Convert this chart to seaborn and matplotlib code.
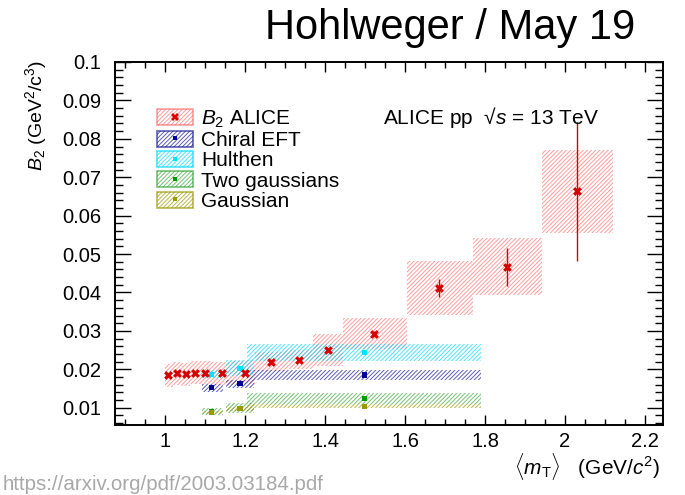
import matplotlib
matplotlib.use("Agg")
import matplotlib.pyplot as plt
import seaborn as sns
import numpy as np
import pandas as pd
from matplotlib.patches import Patch
from matplotlib.lines import Line2D
from matplotlib.ticker import MultipleLocator, FixedLocator, FixedFormatter

# ---------------- data ----------------
alice_mt = [1.008, 1.029, 1.052, 1.075, 1.100, 1.142, 1.200, 1.265, 1.335, 1.408, 1.523, 1.685, 1.856, 2.030]
alice_b2 = [0.0184, 0.0190, 0.0187, 0.0191, 0.0191, 0.0190, 0.0191, 0.0220, 0.0225, 0.0250, 0.0293, 0.0412, 0.0467, 0.0663]
alice_stat = [0.0003, 0.0003, 0.0003, 0.0003, 0.0003, 0.0003, 0.0003, 0.0004, 0.0004, 0.0005, 0.0006, 0.0024, 0.0049, 0.0180]
alice_sys = [0.0030, 0.0030, 0.0030, 0.0030, 0.0030, 0.0030, 0.0030, 0.0025, 0.0025, 0.0041, 0.0040, 0.0070, 0.0074, 0.0107]
alice_lo = [1.000, 1.019, 1.040, 1.063, 1.088, 1.120, 1.170, 1.225, 1.300, 1.371, 1.446, 1.604, 1.770, 1.943]
alice_hi = [1.019, 1.040, 1.063, 1.088, 1.120, 1.170, 1.225, 1.300, 1.371, 1.446, 1.604, 1.770, 1.943, 2.120]

model_mt = [1.117, 1.1875, 1.498]
model_lo = [1.092, 1.153, 1.204]
model_hi = [1.146, 1.223, 1.790]
chiral_b2 = [0.0152, 0.0162, 0.0185]
chiral_err = [0.0010, 0.0011, 0.0012]
hulthen_b2 = [0.0187, 0.0203, 0.0244]
hulthen_err = [0.0010, 0.0020, 0.0022]
twogaus_b2 = [0.0090, 0.0099, 0.0124]
twogaus_err = [0.0009, 0.0013, 0.0014]
gaus_b2 = [0.0088, 0.0097, 0.0104]
gaus_err = [0.0004, 0.0005, 0.0005]

model_names = ["Chiral EFT", "Hulthen", "Two gaussians", "Gaussian"]
x_ticks = [1.0, 1.2, 1.4, 1.6, 1.8, 2.0, 2.2]
x_ticklabels = ["1", "1.2", "1.4", "1.6", "1.8", "2", "2.2"]
y_ticks = [0.01, 0.02, 0.03, 0.04, 0.05, 0.06, 0.07, 0.08, 0.09, 0.1]
y_ticklabels = ["0.01", "0.02", "0.03", "0.04", "0.05", "0.06", "0.07", "0.08", "0.09", "0.1"]

# ---------------- style ----------------
sns.set_theme(style="ticks")
plt.rcParams["font.family"] = ["Liberation Sans", "DejaVu Sans"]
plt.rcParams["mathtext.fontset"] = "custom"
plt.rcParams["mathtext.rm"] = "Liberation Sans"
plt.rcParams["mathtext.it"] = "Liberation Sans:italic"
plt.rcParams["mathtext.bf"] = "Liberation Sans:bold"
plt.rcParams["hatch.linewidth"] = 0.7
plt.rcParams["text.color"] = "black"
plt.rcParams["axes.labelcolor"] = "black"

RED = "#d40000"
red_hatch = (1.0, 0.3, 0.3, 0.55)
model_mcol = ["#000099", "#00e5ff", "#009900", "#999900"]
model_hcol = [(0.1, 0.1, 0.6, 0.7), (0.0, 0.85, 1.0, 0.7), (0.1, 0.6, 0.1, 0.6), (0.6, 0.6, 0.0, 0.7)]
HATCH = "////////"

fig = plt.figure(figsize=(6.85, 4.95), dpi=100)
W, H = 685, 495
L, R, T, B = 115, 663, 62, 425
ax = fig.add_axes([L / W, 1 - B / H, (R - L) / W, (B - T) / H])

# ALICE systematic boxes
a_lo = np.array(alice_lo); a_hi = np.array(alice_hi)
a_y = np.array(alice_b2); a_s = np.array(alice_sys)
ax.bar(a_lo, 2 * a_s, width=a_hi - a_lo, bottom=a_y - a_s, align="edge",
       color="none", edgecolor=red_hatch, hatch=HATCH, linewidth=0, zorder=1)

# model boxes
models_y = [chiral_b2, hulthen_b2, twogaus_b2, gaus_b2]
models_e = [chiral_err, hulthen_err, twogaus_err, gaus_err]
m_lo = np.array(model_lo); m_hi = np.array(model_hi)
for yv, ev, hc in zip(models_y, models_e, model_hcol):
    yv = np.array(yv); ev = np.array(ev)
    ax.bar(m_lo, 2 * ev, width=m_hi - m_lo, bottom=yv - ev, align="edge",
           color="none", edgecolor=hc, hatch=HATCH, linewidth=0, zorder=2)

# model points
rows = []
for name, yv in zip(model_names, models_y):
    for x, y in zip(model_mt, yv):
        rows.append({"mt": x, "b2": y, "model": name})
mdf = pd.DataFrame(rows)
sns.scatterplot(data=mdf, x="mt", y="b2", hue="model", hue_order=model_names,
                palette=model_mcol, marker="s", s=14, linewidth=0, legend=False,
                ax=ax, zorder=4)

# ALICE points + stat errors
ax.errorbar(alice_mt, alice_b2, yerr=alice_stat, fmt="none", ecolor=RED,
            elinewidth=1.0, capsize=0, zorder=5)
adf = pd.DataFrame({"mt": alice_mt, "b2": alice_b2})
sns.scatterplot(data=adf, x="mt", y="b2", color=RED, marker="X", s=40,
                linewidth=0, legend=False, ax=ax, zorder=6)

# axes
ax.set_xlim(0.875, 2.245)
ax.set_ylim(0.0055, 0.1)
ax.xaxis.set_major_locator(FixedLocator(x_ticks))
ax.xaxis.set_major_formatter(FixedFormatter(x_ticklabels))
ax.yaxis.set_major_locator(FixedLocator(y_ticks))
ax.yaxis.set_major_formatter(FixedFormatter(y_ticklabels))
ax.xaxis.set_minor_locator(MultipleLocator(0.05))
ax.yaxis.set_minor_locator(MultipleLocator(0.002))
ax.tick_params(which="both", direction="in", top=True, right=True,
               width=1.0, color="black", labelsize=14.5, labelcolor="black")
ax.tick_params(axis="x", which="major", length=7.5, pad=5)
ax.tick_params(axis="x", which="minor", length=4)
ax.tick_params(axis="y", which="major", length=11.5, pad=10)
ax.tick_params(axis="y", which="minor", length=6)
for sp in ax.spines.values():
    sp.set_linewidth(1.4)
    sp.set_color("black")
ax.set_xlabel("")
ax.set_ylabel("")

# legend
handles = [(Patch(facecolor="none", edgecolor=red_hatch, hatch=HATCH, lw=1.2),
            Line2D([], [], ls="none", marker="X", color=RED, ms=6, mew=0))]
for mc, hc in zip(model_mcol, model_hcol):
    handles.append((Patch(facecolor="none", edgecolor=hc, hatch=HATCH, lw=1.2),
                    Line2D([], [], ls="none", marker="s", color=mc, ms=3.5, mew=0)))
labels = [r"$B_2$ ALICE"] + model_names
leg = fig.legend(handles, labels, loc="upper left", bbox_to_anchor=(156.7 / W, 1 - 108.5 / H),
                 frameon=False, fontsize=15, handlelength=1.76, handleheight=0.8,
                 handletextpad=0.37, labelspacing=0.05, borderpad=0, borderaxespad=0)
for t in leg.get_texts():
    t.set_color("black")

# texts
fig.text(383 / W, 1 - 117 / H, r"ALICE pp  √$s$ = 13 TeV", fontsize=15,
         ha="left", va="center", color="black")
fig.text(450 / W, 1 - 28 / H, "Hohlweger / May 19", fontsize=30,
         ha="center", va="center", color="black")
fig.text(36 / W, 1 - 60 / H, r"$B_2$ (GeV$^2$/c$^3$)", rotation=90, fontsize=14,
         ha="center", va="top", color="black")
fig.text(660 / W, 1 - 467 / H, r"$\langle m_{\mathrm{T}}\rangle$   (GeV/$c^2$)", fontsize=15,
         ha="right", va="center", color="black")
fig.text(3 / W, 1 - 490.5 / H, "https://arxiv.org/pdf/2003.03184.pdf", fontsize=14.8,
         ha="left", va="baseline", color="#a8a8a8")

fig.savefig("out.png", dpi=100)
